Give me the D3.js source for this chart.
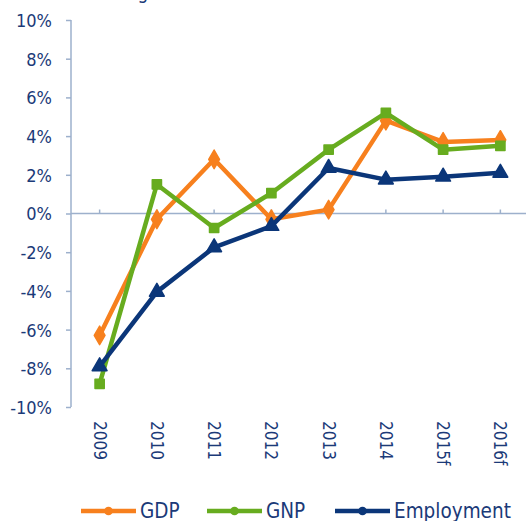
<!DOCTYPE html>
<html><head><meta charset="utf-8">
<script src="https://cdn.jsdelivr.net/npm/d3@7"></script>
<style>
html,body{margin:0;padding:0;background:#fff;overflow:hidden}
text{font-family:"DejaVu Sans Condensed","DejaVu Sans",sans-serif;fill:#1B3A78}
</style></head>
<body>
<svg id="c" width="526" height="521"></svg>
<script>
const categories = ["2009","2010","2011","2012","2013","2014","2015f","2016f"];
const gdp = [-6.3, -0.3, 2.8, -0.3, 0.2, 4.8, 3.7, 3.8];
const gnp = [-8.8, 1.5, -0.75, 1.05, 3.3, 5.2, 3.3, 3.5];
const employment = [-7.9, -4.05, -1.75, -0.65, 2.35, 1.75, 1.9, 2.1];
const yTicks = [-10,-8,-6,-4,-2,0,2,4,6,8,10];
const seriesNames = ["GDP","GNP","Employment"];

const colors = {GDP:"#F7801E", GNP:"#67AC1F", Employment:"#0B3679"};
const symbols = {GDP:d3.symbolDiamond, GNP:d3.symbolSquare, Employment:d3.symbolTriangle};
const data = {GDP:gdp, GNP:gnp, Employment:employment};

const svg = d3.select("#c");
const x = d3.scaleBand().domain(categories).range([71, 529]).padding(0);
const y = d3.scaleLinear().domain([-10,10]).range([407,20]);
const axisColor = "#9DB0CC";

// title fragment (cut off at top edge, as in the reference)
svg.append("text").attr("x",159).attr("y",-1.5).attr("text-anchor","end")
  .style("font-size","19px").text("Annual % change");

// Y axis
const ya = svg.append("g").attr("transform","translate(71,0)")
  .call(d3.axisLeft(y).tickValues(yTicks).tickSize(5).tickPadding(14).tickFormat(d=>d+"%"));
ya.select(".domain").attr("stroke",axisColor).attr("stroke-width",1.5).attr("d","M0,20V407");
ya.selectAll(".tick line").attr("stroke",axisColor).attr("stroke-width",1.5);
ya.selectAll(".tick text").style("font-size","18px").attr("fill","#1B3A78").attr("dy","0.36em");

// X axis at zero
const xa = svg.append("g").attr("transform",`translate(0,${y(0)})`)
  .call(d3.axisTop(x).tickSize(4).tickFormat(""));
xa.select(".domain").attr("stroke",axisColor).attr("stroke-width",1.5).attr("d","M71,0H526");
xa.selectAll(".tick line").attr("stroke",axisColor).attr("stroke-width",1.5);

// X labels rotated at bottom
svg.append("g").selectAll("text").data(categories).join("text")
  .attr("transform",d=>`translate(${x(d)+x.bandwidth()/2},421) rotate(90)`)
  .attr("dy","0.36em").attr("text-anchor","start")
  .style("font-size","17px").text(d=>d);

// Lines and markers
const line = d3.line().x((d,i)=>x(categories[i])+x.bandwidth()/2).y(d=>y(d));
const symSize = {GDP:100, GNP:85, Employment:95};
seriesNames.forEach(name=>{
  const vals = data[name];
  svg.append("path").datum(vals).attr("d",line)
    .attr("fill","none").attr("stroke",colors[name]).attr("stroke-width",4.5).attr("stroke-linejoin","round");
  svg.append("g").selectAll("path").data(vals).join("path")
    .attr("transform",(d,i)=>`translate(${x(categories[i])+x.bandwidth()/2},${y(d)})`)
    .attr("d",d3.symbol().type(symbols[name]).size(symSize[name]))
    .attr("fill",colors[name]).attr("stroke",colors[name]).attr("stroke-width",1.5).attr("stroke-linejoin","round");
});

// Legend
const legendX = [81, 207, 335];
seriesNames.forEach((name,i)=>{
  const g = svg.append("g").attr("transform",`translate(${legendX[i]},511)`);
  g.append("line").attr("x1",0).attr("x2",55).attr("y1",0).attr("y2",0)
    .attr("stroke",colors[name]).attr("stroke-width",4.5);
  g.append("path").attr("transform","translate(27.5,0)")
    .attr("d",d3.symbol().type(d3.symbolCircle).size(60)).attr("fill",colors[name]);
  g.append("text").attr("x",59).attr("y",0).attr("dy","0.36em").style("font-size","20.5px").text(name);
});
</script>
</body></html>
